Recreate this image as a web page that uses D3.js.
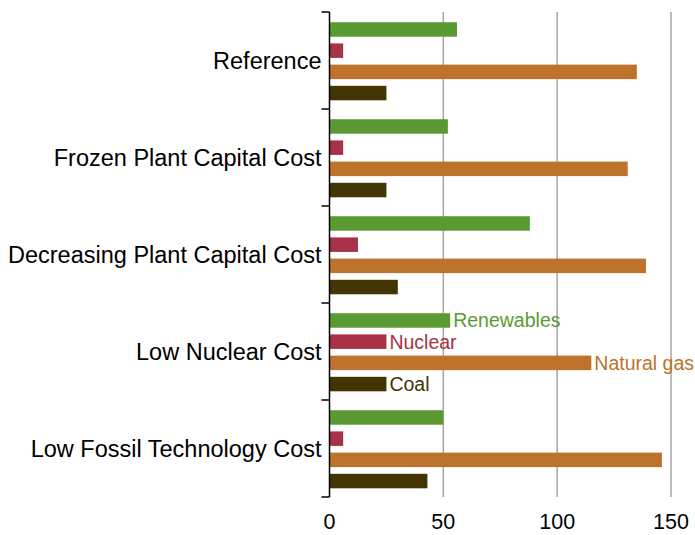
<!DOCTYPE html>
<html>
<head>
<meta charset="utf-8">
<script src="https://cdn.jsdelivr.net/npm/d3@7"></script>
<style>
  body { margin: 0; background: #fff; }
  text { font-family: "Liberation Sans", Arial, sans-serif; }
</style>
</head>
<body>
<div id="chart"></div>
<script>
// data
var cases = ["Reference", "Frozen Plant Capital Cost", "Decreasing Plant Capital Cost", "Low Nuclear Cost", "Low Fossil Technology Cost"];
var fuels = ["Renewables", "Nuclear", "Natural gas", "Coal"];
var renewables = [56, 52, 88, 53, 50];
var nuclear = [6, 6, 12.5, 25, 6];
var naturalgas = [135, 131, 139, 115, 146];
var coal = [25, 25, 30, 25, 43];
var xticks = [0, 50, 100, 150];
var colors = ["#5b9a33", "#a53246", "#bd732b", "#433404"];
var labelCase = "Low Nuclear Cost";

var series = [renewables, nuclear, naturalgas, coal];

var W = 695, H = 535;
var mLeft = 329.5, mRight = 671, mTop = 12, mBottom = 497;

var svg = d3.select("#chart").append("svg")
  .attr("width", W).attr("height", H);

var x = d3.scaleLinear().domain([0, 150]).range([mLeft, mRight]);
var y = d3.scaleBand().domain(cases).range([mTop, mBottom]);
var yi = d3.scaleBand().domain(fuels).range([0, y.bandwidth()])
  .paddingInner(0.316).paddingOuter(0.446).align(0.54);

// gridlines
svg.append("g").selectAll("line")
  .data(xticks.filter(function(d){ return d > 0; }))
  .enter().append("line")
  .attr("x1", function(d){ return x(d); })
  .attr("x2", function(d){ return x(d); })
  .attr("y1", mTop).attr("y2", mBottom)
  .attr("stroke", "#a6a6a6").attr("stroke-width", 1.5);

// bars
var groups = svg.append("g").selectAll("g")
  .data(cases).enter().append("g")
  .attr("transform", function(d){ return "translate(0," + y(d) + ")"; });

groups.selectAll("rect")
  .data(function(c, ci){ return fuels.map(function(f, fi){ return {fuel: f, fi: fi, v: series[fi][ci], c: c}; }); })
  .enter().append("rect")
  .attr("x", x(0))
  .attr("y", function(d){ return yi(d.fuel); })
  .attr("width", function(d){ return x(d.v) - x(0); })
  .attr("height", yi.bandwidth())
  .attr("fill", function(d){ return colors[d.fi]; });

// inline series labels
groups.filter(function(c){ return c == labelCase; }).selectAll("text")
  .data(function(c){ var ci = cases.indexOf(c); return fuels.map(function(f, fi){ return {fuel: f, fi: fi, v: series[fi][ci]}; }); })
  .enter().append("text")
  .attr("x", function(d){ return x(d.v) + 3; })
  .attr("y", function(d){ return yi(d.fuel) + yi.bandwidth() / 2; })
  .attr("dy", "0.36em")
  .attr("font-size", "19.5px")
  .attr("fill", function(d){ return colors[d.fi]; })
  .text(function(d){ return d.fuel; });

// y axis
var yAxis = svg.append("g");
yAxis.append("line")
  .attr("x1", mLeft).attr("x2", mLeft)
  .attr("y1", mTop).attr("y2", mBottom)
  .attr("stroke", "#000").attr("stroke-width", 1.5);
yAxis.selectAll(".tk")
  .data(d3.range(cases.length + 1))
  .enter().append("line")
  .attr("class", "tk")
  .attr("x1", mLeft - 8).attr("x2", mLeft)
  .attr("y1", function(i){ return mTop + i * y.step(); })
  .attr("y2", function(i){ return mTop + i * y.step(); })
  .attr("stroke", "#000").attr("stroke-width", 1.5);
yAxis.selectAll("text")
  .data(cases).enter().append("text")
  .attr("x", mLeft - 8)
  .attr("y", function(d){ return y(d) + y.bandwidth() / 2; })
  .attr("dy", "0.36em")
  .attr("text-anchor", "end")
  .attr("font-size", "23.5px")
  .attr("fill", "#000")
  .text(function(d){ return d; });

// x tick labels
svg.append("g").selectAll("text")
  .data(xticks).enter().append("text")
  .attr("x", function(d){ return x(d); })
  .attr("y", 529)
  .attr("text-anchor", "middle")
  .attr("font-size", "21.5px")
  .attr("fill", "#000")
  .text(function(d){ return d; });
</script>
</body>
</html>
